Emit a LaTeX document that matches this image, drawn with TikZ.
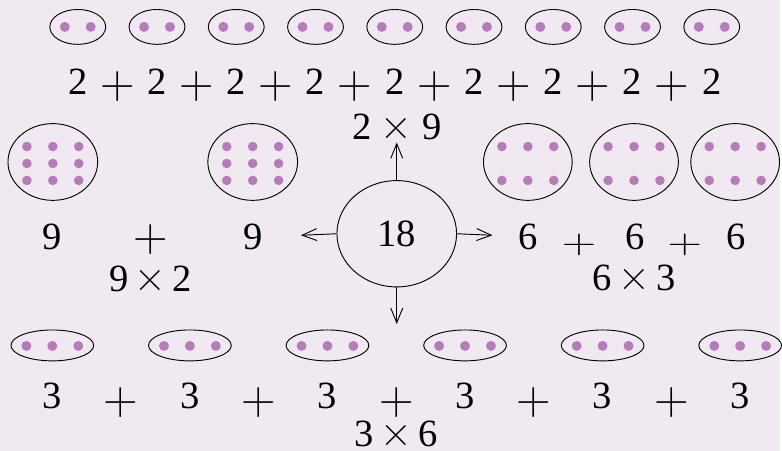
\documentclass[tikz,border=0pt]{standalone}
\usepackage{fontspec}
\setmainfont{Liberation Serif}
\newfontfamily\symfont{Latin Modern Roman}
\newcommand{\tms}{{\symfont\fontsize{33}{33}\selectfont ×}}
\usetikzlibrary{shapes.geometric,arrows.meta}
\definecolor{bgpaper}{RGB}{240,233,242}
\definecolor{dotpink}{RGB}{182,123,185}
\tikzset{
  num/.style={inner sep=0pt,font=\fontsize{29}{30}\selectfont},
  plussign/.style={inner sep=0pt,font=\symfont\fontsize{36}{36}\selectfont},
  grp/.style={draw,line width=0.7pt},
  dot/.style={fill=dotpink},
  arr/.style={line width=0.7pt,-{Straight Barb[length=11pt,width=9pt]}}
}
\begin{document}
\begin{tikzpicture}[x=0.75pt,y=-0.75pt]
\fill[bgpaper] (0,0) rectangle (782,452);
% top row: 2 + 2 + ... + 2
\foreach \i in {0,...,8}{
  \pgfmathsetmacro{\cx}{78+79.5*\i}
  \draw[grp] (\cx,27) ellipse (28 and 17.5);
  \fill[dot] (\cx-13,27) circle (5);
  \fill[dot] (\cx+13,27) circle (5);
  \node[num] (two\i) at (\cx,81.5) {2};
}
\foreach \i in {0,...,7}
  \node[plussign] (tplus\i) at (117.75+79.5*\i,86.5) {+};
\node[num] (prodtop) at (398,127) {2 \tms{} 9};
% left: 9 + 9
\foreach \cx in {53,253.5}{
  \draw[grp] (\cx,162.5) ellipse (45 and 38.5);
  \foreach \dx in {-26,0,26}
    \foreach \dy in {-17,0,17}
      \fill[dot] (\cx+\dx,164+\dy) circle (4.8);
}
\node[num] (nine1) at (52.5,238) {9};
\node[plussign] (lplus) at (151,240) {+};
\node[num] (nine2) at (254,238) {9};
\node[num] (prodleft) at (151,279.5) {9\,\tms\,2};
% centre
\node[ellipse,grp,minimum width=90pt,minimum height=80pt,inner sep=0pt,
  font=\fontsize{29}{30}\selectfont] (c) at (398,234.5) {18};
\coordinate (upend) at (398,143);
\coordinate (leftend) at (302,236);
\coordinate (rightend) at (494,236);
\coordinate (downend) at (398,325);
\draw[arr] (c.north) -- (upend);
\draw[arr] (c.west) -- (leftend);
\draw[arr] (c.east) -- (rightend);
\draw[arr] (c.south) -- (downend);
% right: 6 + 6 + 6
\foreach \cx in {529.5,636,737.5}{
  \draw[grp] (\cx,162.5) ellipse (44.5 and 38.5);
  \foreach \dx in {-26,0,26}
    \foreach \dy in {-17,17}
      \fill[dot] (\cx+\dx,164+\dy) circle (4.8);
}
\node[num] (six1) at (530,237.5) {6};
\node[plussign,yscale=0.72] (rplus1) at (581,246) {+};
\node[num] (six2) at (637,237.5) {6};
\node[plussign,yscale=0.72] (rplus2) at (687,246) {+};
\node[num] (six3) at (738,237.5) {6};
\node[num] (prodright) at (636,278.5) {6\,\tms\,3};
% bottom row: 3 + 3 + ... + 3
\foreach \i in {0,...,5}{
  \pgfmathsetmacro{\cx}{52.5+138*\i}
  \draw[grp] (\cx,346.5) ellipse (41.5 and 15.5);
  \foreach \dx in {-26,0,26}
    \fill[dot] (\cx+\dx,347) circle (5);
  \node[num] (three\i) at (\cx,397.5) {3};
}
\foreach \i in {0,...,4}
  \node[plussign] (bplus\i) at (121.5+138*\i,404) {+};
\node[num] (prodbottom) at (397.5,435) {3\,\tms\,6};
\end{tikzpicture}
\end{document}
